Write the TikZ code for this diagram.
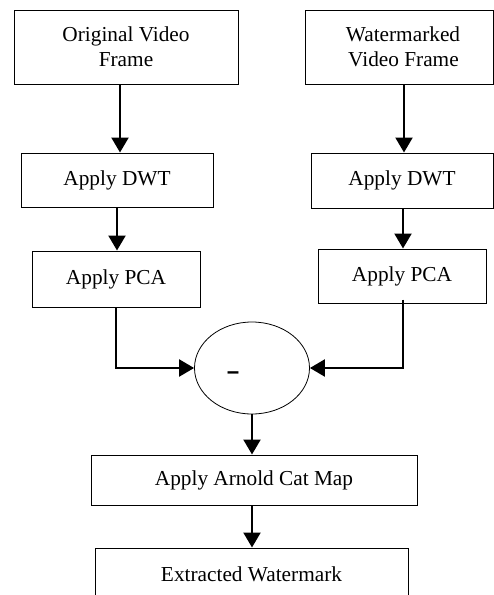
\documentclass[tikz,border=0pt]{standalone}
\usepackage{fontspec}
\setmainfont{Liberation Serif}
\usetikzlibrary{arrows.meta,shapes.geometric}
\begin{document}
\begin{tikzpicture}[x=1pt,y=-1pt,
  box/.style={draw,line width=1pt,inner sep=0pt,align=center,font=\fontsize{21.3}{25}\selectfont},
  arr/.style={line width=2.2pt,-{Triangle[width=17pt,length=15pt]}},
  oval/.style={draw,ellipse,line width=0.8pt,inner sep=0pt,font=\fontsize{21.3}{25}\selectfont}]
\useasboundingbox (0,0) rectangle (494,595);
\clip (0,0) rectangle (494,595);
\node[box,minimum width=224pt,minimum height=74pt] (b1) at (126,47) {Original Video\\Frame};
\node[box,minimum width=188pt,minimum height=74pt] (b2) at (399,47) {\hspace*{8pt}Watermarked\\\hspace*{9pt}Video Frame};
\node[box,minimum width=192pt,minimum height=54pt] (b3) at (117,180) {Apply DWT};
\node[box,minimum width=182pt,minimum height=55pt] (b4) at (402,180.5) {Apply DWT};
\node[box,minimum width=168pt,minimum height=56pt] (b5) at (116,279) {Apply PCA};
\node[box,minimum width=168pt,minimum height=54pt] (b6) at (402,276) {Apply PCA};
\node[oval,minimum width=115pt,minimum height=92pt] (e) at (252,368) {};
\node[inner sep=0pt,font=\fontsize{28}{28}\bfseries] (minus) at (233,376) {\scalebox{1.5}[1]{-}};
\node[box,minimum width=326pt,minimum height=50pt] (b7) at (254,480) {Apply Arnold Cat Map};
\node[box,minimum width=313pt,minimum height=52pt] (b8) at (251.5,574) {Extracted Watermark};
\draw[arr] ([xshift=-6pt]b1.south) -- ([xshift=-6pt]b1.south |- b3.north);
\draw[arr] ([xshift=5pt]b2.south) -- ([xshift=5pt]b2.south |- b4.north);
\draw[arr] (b3.south) -- (b3.south |- b5.north);
\draw[arr] ([xshift=1pt]b4.south) -- ([xshift=1pt]b4.south |- b6.north);
\coordinate (lc) at (b5.south |- e.west);
\draw[arr] (b5.south) -- (lc) -- (e.west);
\coordinate (rs) at ([xshift=1pt,yshift=4pt]b6.south);
\coordinate (rc) at (rs |- e.east);
\draw[arr] (rs) -- (rc) -- (e.east);
\draw[arr] (e.south) -- (e.south |- b7.north);
\draw[arr] (e.south |- b7.south) -- (e.south |- b8.north);
\end{tikzpicture}
\end{document}
